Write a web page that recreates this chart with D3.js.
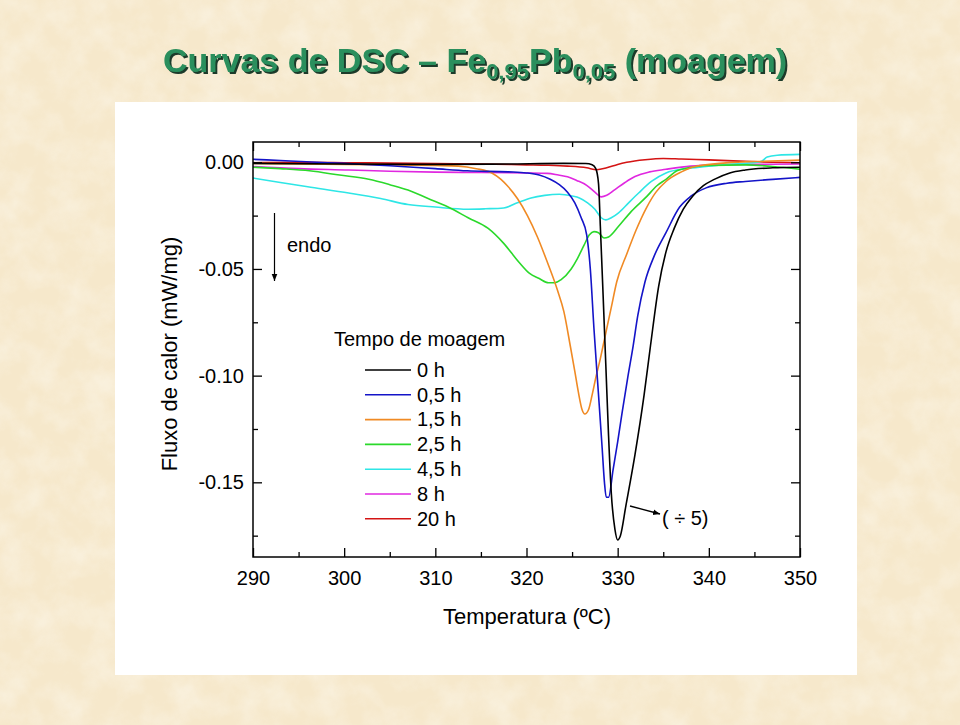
<!DOCTYPE html>
<html>
<head>
<meta charset="utf-8">
<script src="https://cdn.jsdelivr.net/npm/d3@7"></script>
<style>
  html, body { margin: 0; padding: 0; background: #f7ebd0; }
  svg { display: block; }
  text { font-family: "Liberation Sans", Arial, sans-serif; }
</style>
</head>
<body>
<svg id="chart" width="960" height="725"></svg>
<script>
// ---------------- DATA ----------------
const xTicks = [290, 300, 310, 320, 330, 340, 350];
const xTickLabels = ["290", "300", "310", "320", "330", "340", "350"];
const yTicks = [0, -0.05, -0.10, -0.15];
const yTickLabels = ["0.00", "-0.05", "-0.10", "-0.15"];

const legendTitle = "Tempo de moagem";
const seriesNames = ["0 h", "0,5 h", "1,5 h", "2,5 h", "4,5 h", "8 h", "20 h"];

// [Temperatura (ºC), Fluxo de calor (mW/mg)]; 0 h curve shown divided by 5
const s0h = [[290,-0.0005],[300,-0.0008],[310,-0.001],[318,-0.0008],[324,-0.0005],[326.5,-0.0006],[327.2,-0.0012],[327.6,-0.003],[327.9,-0.010],[328.1,-0.030],[328.4,-0.062],[328.7,-0.095],[329.0,-0.128],[329.3,-0.155],[329.7,-0.172],[330.0,-0.177],[330.3,-0.175],[330.9,-0.161],[331.9,-0.137],[332.9,-0.109],[333.6,-0.086],[334.5,-0.058],[335.3,-0.042],[336.2,-0.031],[337.2,-0.022],[338.2,-0.016],[339.4,-0.011],[340.6,-0.008],[342.3,-0.005],[344,-0.0036],[347,-0.0026],[350,-0.0023]];
const s05h = [[290,0.0014],[293,0.0008],[297,0.0],[300,-0.0005],[305,-0.0016],[310,-0.003],[313.5,-0.004],[318,-0.0045],[320,-0.005],[321.4,-0.006],[322.6,-0.008],[323.6,-0.0105],[324.5,-0.014],[325.3,-0.019],[326,-0.026],[326.6,-0.034],[327.0,-0.05],[327.4,-0.078],[327.9,-0.109],[328.3,-0.134],[328.55,-0.150],[328.75,-0.157],[329.0,-0.157],[329.5,-0.144],[330.0,-0.131],[330.5,-0.117],[331.1,-0.101],[331.7,-0.086],[332.2,-0.072],[333.0,-0.056],[334.0,-0.044],[335.3,-0.033],[336.8,-0.021],[338,-0.016],[339.7,-0.012],[342,-0.0098],[344,-0.009],[347,-0.008],[350,-0.0071]];
const s15h = [[290,-0.0005],[295,-0.0008],[300,-0.001],[305,-0.0012],[310,-0.0015],[312.5,-0.0018],[314.5,-0.003],[316.2,-0.005],[317.2,-0.008],[317.9,-0.011],[319,-0.017],[320.1,-0.025],[321.2,-0.035],[322.3,-0.047],[323.4,-0.060],[324.1,-0.070],[324.8,-0.086],[325.3,-0.098],[325.7,-0.108],[326.1,-0.116],[326.4,-0.118],[326.8,-0.116],[327.2,-0.109],[327.6,-0.101],[328.1,-0.092],[328.5,-0.084],[329.3,-0.068],[329.9,-0.056],[331,-0.043],[332,-0.032],[333.2,-0.021],[334.2,-0.014],[335.3,-0.009],[337,-0.0045],[338.5,-0.002],[341.9,-0.0003],[346,0.0005],[350,0.001]];
const s25h = [[290,-0.0023],[293,-0.003],[296.2,-0.004],[299.5,-0.006],[302.7,-0.008],[305,-0.0105],[307,-0.013],[309.2,-0.017],[311.4,-0.021],[313.6,-0.026],[315.8,-0.031],[317.5,-0.038],[319.2,-0.047],[320.3,-0.052],[321.4,-0.0545],[322.4,-0.0565],[323.1,-0.0565],[323.8,-0.055],[324.9,-0.050],[325.6,-0.045],[326.3,-0.039],[326.9,-0.034],[327.4,-0.0325],[327.9,-0.033],[328.5,-0.0355],[329.0,-0.035],[330.1,-0.030],[331.5,-0.023],[333.2,-0.016],[334.3,-0.011],[335.3,-0.008],[336.5,-0.004],[337.5,-0.0028],[340,-0.0015],[344,-0.0012],[347,-0.002],[350,-0.0033]];
const s45h = [[290,-0.0074],[293,-0.0095],[296,-0.0115],[300.5,-0.0144],[304,-0.017],[307,-0.0198],[310,-0.021],[313.6,-0.022],[315.5,-0.0218],[317.5,-0.0214],[319,-0.019],[320.5,-0.0167],[322,-0.0155],[323.6,-0.015],[325,-0.0158],[325.8,-0.0167],[326.7,-0.019],[327.5,-0.022],[328.2,-0.026],[328.7,-0.027],[329.3,-0.026],[330.1,-0.0237],[331.2,-0.019],[332.3,-0.0144],[333.7,-0.009],[335.3,-0.005],[337.5,-0.003],[339.7,-0.002],[342,-0.001],[344.9,-0.0002],[345.8,0.0005],[346.4,0.0025],[347.5,0.0033],[350,0.0037]];
const s8h = [[290,-0.002],[295,-0.003],[300.5,-0.0036],[305,-0.0042],[310,-0.0046],[315,-0.0048],[320,-0.005],[322.3,-0.0052],[323.5,-0.006],[324.5,-0.0068],[325.5,-0.0085],[326.6,-0.0108],[327.5,-0.014],[328.2,-0.0162],[328.8,-0.0155],[329.7,-0.0128],[330.8,-0.0095],[331.9,-0.0067],[333.5,-0.0045],[335.3,-0.0033],[338,-0.0018],[341,-0.0012],[345,-0.001],[350,-0.0008]];
const s20h = [[290,-0.0002],[295,0.0],[300,-0.0002],[305,-0.0004],[310,-0.0006],[315,-0.0008],[320,-0.0012],[322.3,-0.0014],[324.5,-0.0018],[326.6,-0.0026],[327.7,-0.0035],[328.8,-0.0026],[330,-0.001],[331,0.0],[333,0.0012],[335,0.0018],[337,0.0015],[340,0.0011],[344,0.0004],[347,0.0],[350,-0.0002]];

const allSeries = [s0h, s05h, s15h, s25h, s45h, s8h, s20h];

// ---------------- STYLE / LAYOUT ----------------
const colors = ["#000000", "#1414c8", "#f08a24", "#2bd92b", "#2ee6e6", "#e028e0", "#d41414"];
const plot = { left: 253, right: 800, top: 142, bottom: 557 };

const svg = d3.select("#chart");

// background texture
const defs = svg.append("defs");
const f = defs.append("filter").attr("id", "paper").attr("x", 0).attr("y", 0).attr("width", "100%").attr("height", "100%");
f.append("feTurbulence").attr("type", "fractalNoise").attr("baseFrequency", "0.035").attr("numOctaves", 4).attr("seed", 7);
f.append("feColorMatrix").attr("type", "matrix")
  .attr("values", "0 0 0 0 1  0 0 0 0 1  0 0 0 0 0.97  1.2 0 0 0 -0.42");
svg.append("rect").attr("width", 960).attr("height", 725).attr("fill", "#f6e8cb");
svg.append("rect").attr("width", 960).attr("height", 725).attr("filter", "url(#paper)").attr("opacity", 0.55);

// title shadow filter
const ts = defs.append("filter").attr("id", "tshadow").attr("x", "-5%").attr("y", "-20%").attr("width", "110%").attr("height", "150%");
ts.append("feDropShadow").attr("dx", 2).attr("dy", 2).attr("stdDeviation", 0.3)
  .attr("flood-color", "#1c3b2a").attr("flood-opacity", 1);

// white panel
svg.append("rect").attr("x", 115).attr("y", 102).attr("width", 742).attr("height", 573).attr("fill", "#ffffff");

// title
const t = svg.append("text").attr("x", 163).attr("y", 72)
  .attr("font-size", 34).attr("font-weight", "bold").attr("fill", "#2b8f5d")
  .attr("filter", "url(#tshadow)");
t.append("tspan").text("Curvas de DSC \u2013 Fe");
t.append("tspan").attr("font-size", 22).attr("dy", 7).text("0,95");
t.append("tspan").attr("dy", -7).text("Pb");
t.append("tspan").attr("font-size", 22).attr("dy", 7).text("0,05");
t.append("tspan").attr("dy", -7).text(" (moagem)");

// scales
const x = d3.scaleLinear().domain([290, 350]).range([plot.left, plot.right]);
const y = d3.scaleLinear().domain([-0.185, 0.0095]).range([plot.bottom, plot.top]);

// clip
defs.append("clipPath").attr("id", "clip").append("rect")
  .attr("x", plot.left).attr("y", plot.top)
  .attr("width", plot.right - plot.left).attr("height", plot.bottom - plot.top);

// curves
const line = d3.line().x(d => x(d[0])).y(d => y(d[1])).curve(d3.curveMonotoneX);
const curves = svg.append("g").attr("clip-path", "url(#clip)");
const order = [6, 5, 4, 3, 2, 1, 0];
order.forEach(i => {
  curves.append("path").datum(allSeries[i]).attr("d", line)
    .attr("fill", "none").attr("stroke", colors[i]).attr("stroke-width", 1.6)
    .attr("stroke-linejoin", "round");
});

// axes
const xMinor = d3.range(295, 350, 10);
const yMinor = [-0.025, -0.075, -0.125, -0.175];
const fmtX = (d) => xTickLabels[xTicks.indexOf(d)];
const fmtY = (d) => yTickLabels[yTicks.findIndex(v => Math.abs(v - d) < 1e-9)];

function styleAxis(g) {
  g.select(".domain").remove();
  g.selectAll(".tick line").attr("stroke", "#000").attr("stroke-width", 1.3);
  g.selectAll(".tick text").attr("font-family", "Liberation Sans, Arial, sans-serif").attr("font-size", 20).attr("fill", "#000");
}

svg.append("g").attr("transform", `translate(0,${plot.bottom})`)
  .call(d3.axisBottom(x).tickValues(xTicks).tickFormat(fmtX).tickSizeInner(-9).tickSizeOuter(0).tickPadding(14))
  .call(styleAxis);
svg.append("g").attr("transform", `translate(0,${plot.bottom})`)
  .call(d3.axisBottom(x).tickValues(xMinor).tickFormat("").tickSizeInner(-5).tickSizeOuter(0))
  .call(styleAxis);
svg.append("g").attr("transform", `translate(0,${plot.top})`)
  .call(d3.axisTop(x).tickValues(xTicks).tickFormat("").tickSizeInner(-9).tickSizeOuter(0))
  .call(styleAxis);
svg.append("g").attr("transform", `translate(0,${plot.top})`)
  .call(d3.axisTop(x).tickValues(xMinor).tickFormat("").tickSizeInner(-5).tickSizeOuter(0))
  .call(styleAxis);

svg.append("g").attr("transform", `translate(${plot.left},0)`)
  .call(d3.axisLeft(y).tickValues(yTicks).tickFormat(fmtY).tickSizeInner(-9).tickSizeOuter(0).tickPadding(9))
  .call(styleAxis);
svg.append("g").attr("transform", `translate(${plot.left},0)`)
  .call(d3.axisLeft(y).tickValues(yMinor).tickFormat("").tickSizeInner(-5).tickSizeOuter(0))
  .call(styleAxis);
svg.append("g").attr("transform", `translate(${plot.right},0)`)
  .call(d3.axisRight(y).tickValues(yTicks).tickFormat("").tickSizeInner(-9).tickSizeOuter(0))
  .call(styleAxis);
svg.append("g").attr("transform", `translate(${plot.right},0)`)
  .call(d3.axisRight(y).tickValues(yMinor).tickFormat("").tickSizeInner(-5).tickSizeOuter(0))
  .call(styleAxis);

// frame
svg.append("rect").attr("x", plot.left).attr("y", plot.top)
  .attr("width", plot.right - plot.left).attr("height", plot.bottom - plot.top)
  .attr("fill", "none").attr("stroke", "#000").attr("stroke-width", 1.5);

// axis titles
svg.append("text").attr("x", 527).attr("y", 624).attr("text-anchor", "middle")
  .attr("font-size", 22).text("Temperatura (\u00baC)");
svg.append("text").attr("transform", "translate(177,354) rotate(-90)").attr("text-anchor", "middle")
  .attr("font-size", 22).text("Fluxo de calor (mW/mg)");

// arrow marker
defs.append("marker").attr("id", "arrow").attr("viewBox", "0 0 10 10")
  .attr("refX", 10).attr("refY", 5).attr("markerWidth", 7).attr("markerHeight", 7)
  .attr("markerUnits", "userSpaceOnUse").attr("orient", "auto")
  .append("path").attr("d", "M0,1 L10,5 L0,9 Z").attr("fill", "#000");

// endo annotation
svg.append("line").attr("x1", 274.5).attr("y1", 213).attr("x2", 274.5).attr("y2", 281)
  .attr("stroke", "#000").attr("stroke-width", 1.2).attr("marker-end", "url(#arrow)");
svg.append("text").attr("x", 287).attr("y", 252).attr("font-size", 20).text("endo");

// (÷5) annotation
svg.append("line").attr("x1", 630).attr("y1", 506).attr("x2", 660).attr("y2", 514)
  .attr("stroke", "#000").attr("stroke-width", 1.3).attr("marker-end", "url(#arrow)");
svg.append("text").attr("x", 662).attr("y", 525).attr("font-size", 20).text("( \u00f7 5)");

// legend
const lg = svg.append("g");
lg.append("text").attr("x", 334).attr("y", 346).attr("font-size", 20).text(legendTitle);
seriesNames.forEach((name, i) => {
  const yy = 370 + i * 24.8;
  lg.append("line").attr("x1", 365).attr("x2", 411).attr("y1", yy).attr("y2", yy)
    .attr("stroke", colors[i]).attr("stroke-width", 1.6);
  lg.append("text").attr("x", 417).attr("y", yy + 6.8).attr("font-size", 20).text(name);
});
</script>
</body>
</html>
